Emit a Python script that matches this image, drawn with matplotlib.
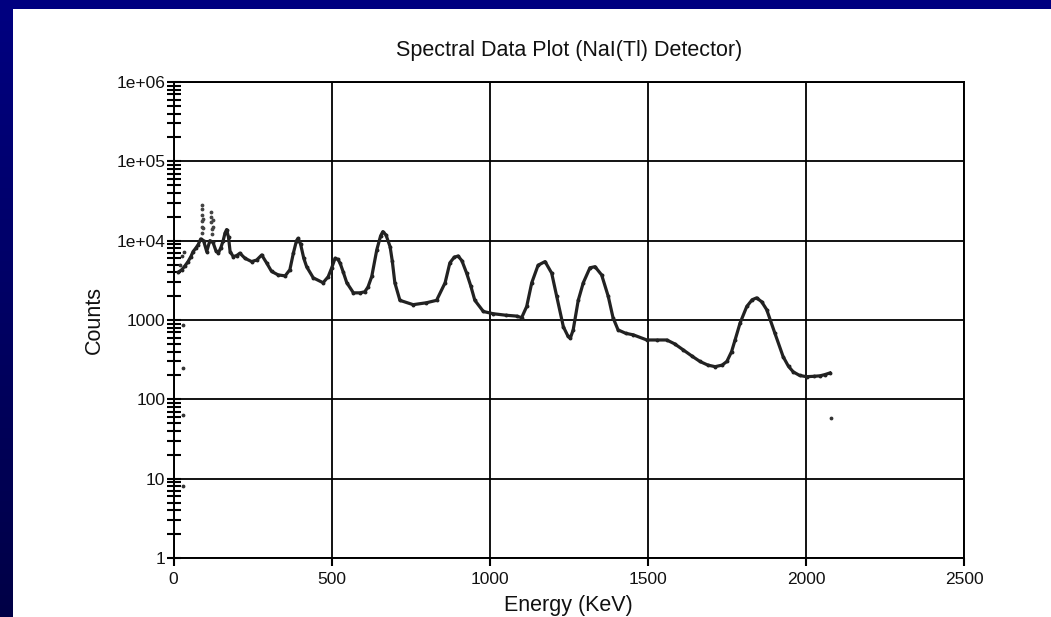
import matplotlib
matplotlib.use('Agg')
import matplotlib.pyplot as plt
import matplotlib.ticker as mticker
import numpy as np

plt.rcParams['font.family'] = ['Liberation Sans', 'DejaVu Sans']

# spectrum (energy in keV, counts)
energy = [15, 26, 36, 46, 55, 62, 70, 78, 86, 95, 105, 115, 125, 134,
          142, 150, 157, 163, 168, 174, 179, 189, 200, 210, 226, 247, 263, 279, 295, 310,
          331, 353, 368, 379, 389, 394, 402, 412, 421, 442, 473, 489, 500, 511, 520, 527,
          537, 548, 569, 590, 605, 615, 627, 643, 655, 662, 672, 685, 692, 700, 716, 758,
          800, 832, 859, 874, 888, 900, 912, 927, 940, 953, 980, 1011, 1050, 1085, 1101,
          1117, 1133, 1153, 1175, 1196, 1212, 1233, 1248, 1255, 1264, 1280, 1296, 1317,
          1333, 1354, 1375, 1390, 1406, 1430, 1454, 1497, 1530, 1560, 1585, 1612, 1640,
          1665, 1690, 1713, 1735, 1750, 1765, 1776, 1792, 1813, 1830, 1844, 1860, 1876,
          1902, 1928, 1945, 1960, 1980, 2002, 2025, 2045, 2060, 2076]
counts = [4000, 4300, 4800, 5450, 6300, 7300, 8000, 8900, 10500, 10000, 7300, 10000, 9500,
          7500, 7000, 8200, 10000, 12500, 13800, 11000, 7300,
          6300, 6500, 6950, 6000, 5450, 5700, 6600, 5200, 4100, 3700, 3600, 4300, 6950,
          10000, 10700, 9000, 6000, 4700, 3400, 2950, 3500, 4500, 6000, 5800, 5200, 4000,
          2950, 2200, 2200, 2270, 2600, 3540, 7700, 11500, 13000, 11800, 8400, 5500, 2950,
          1770, 1560, 1650, 1770, 2950, 5250, 6200, 6400, 5600, 3900, 2700, 1770, 1280,
          1200, 1150, 1120, 1070, 1480, 2950, 4900, 5450, 3900, 1980, 820, 620, 590, 750,
          1770, 2950, 4550, 4700, 3700, 1980, 1070, 750, 680, 650, 560, 560, 560, 500, 420,
          350, 300, 270, 258, 270, 300, 400, 560, 920, 1480, 1800, 1900, 1700, 1350, 680,
          345, 260, 222, 200, 193, 195, 198, 205, 215]

# dotted spikes of the low energy peaks
spike_e = [89, 89, 89, 90, 90, 91, 93, 94, 119, 120, 120, 121, 122, 124, 126]
spike_c = [28000, 25000, 21000, 17500, 15000, 12500, 19000, 14500, 23000, 20000, 17000,
           14000, 12000, 18000, 15000]

# loose single points
stray_e = [30, 30, 30, 30, 28, 32, 22, 2080]
stray_c = [870, 246, 63, 8, 6500, 7200, 5000, 58]

ytick_vals = [1, 10, 100, 1000, 1e4, 1e5, 1e6]
ytick_lab = ['1', '10', '100', '1000', '1e+04', '1e+05', '1e+06']
xtick_vals = [0, 500, 1000, 1500, 2000, 2500]

fig = plt.figure(figsize=(10.51, 6.17), dpi=100, facecolor='white')

# blue frame of the slide: band on top and a shaded band on the left
top = fig.add_axes([0, 1 - 9 / 617, 1, 9 / 617])
top.set_facecolor('#000080')
top.set_xticks([])
top.set_yticks([])
for s in top.spines.values():
    s.set_visible(False)
side = fig.add_axes([0, 0, 13 / 1051, 1 - 9 / 617])
grad = np.linspace(0, 1, 256).reshape(-1, 1)
side.imshow(grad, aspect='auto', cmap=matplotlib.colors.LinearSegmentedColormap.from_list(
    'b', ['#000080', '#000046']), extent=[0, 1, 0, 1])
side.axis('off')

ax = fig.add_axes([173.5 / 1051, 1 - 558 / 617, (964 - 173.5) / 1051, (558 - 82) / 617])
ax.set_yscale('log')
ax.set_xlim(0, 2500)
ax.set_ylim(1, 1e6)

ax.grid(True, which='major', color='black', lw=1.3)
ax.set_axisbelow(True)
for s in ax.spines.values():
    s.set_linewidth(1.4)
    s.set_color('black')

ax.plot(energy, counts, color='#222222', lw=2.3, marker='o', ms=1.8, zorder=3)
ax.scatter(spike_e, spike_c, s=3, color='#444444', zorder=3)
ax.scatter(stray_e, stray_c, s=3, color='#333333', zorder=3)

ax.set_yticks(ytick_vals)
ax.set_yticklabels(ytick_lab)
ax.yaxis.set_minor_locator(mticker.LogLocator(base=10, subs=np.arange(2, 10), numticks=20))
ax.yaxis.set_minor_formatter(mticker.NullFormatter())
ax.tick_params(axis='y', which='both', direction='inout', length=10, width=1.5,
               labelsize=12.5, pad=1, colors='black', labelcolor='#111111')
ax.set_xticks(xtick_vals)
ax.tick_params(axis='x', which='major', direction='out', length=6, width=1.5,
               labelsize=12.5, pad=4, labelcolor='#111111')

ax.set_title('Spectral Data Plot (NaI(Tl) Detector)', fontsize=15.5, color='#111111', pad=19)
ax.set_xlabel('Energy (KeV)', fontsize=15.5, color='#111111', labelpad=6)
ax.set_ylabel('Counts', fontsize=15.5, color='#111111', labelpad=8)

fig.savefig('out.png', dpi=100, facecolor='white')
